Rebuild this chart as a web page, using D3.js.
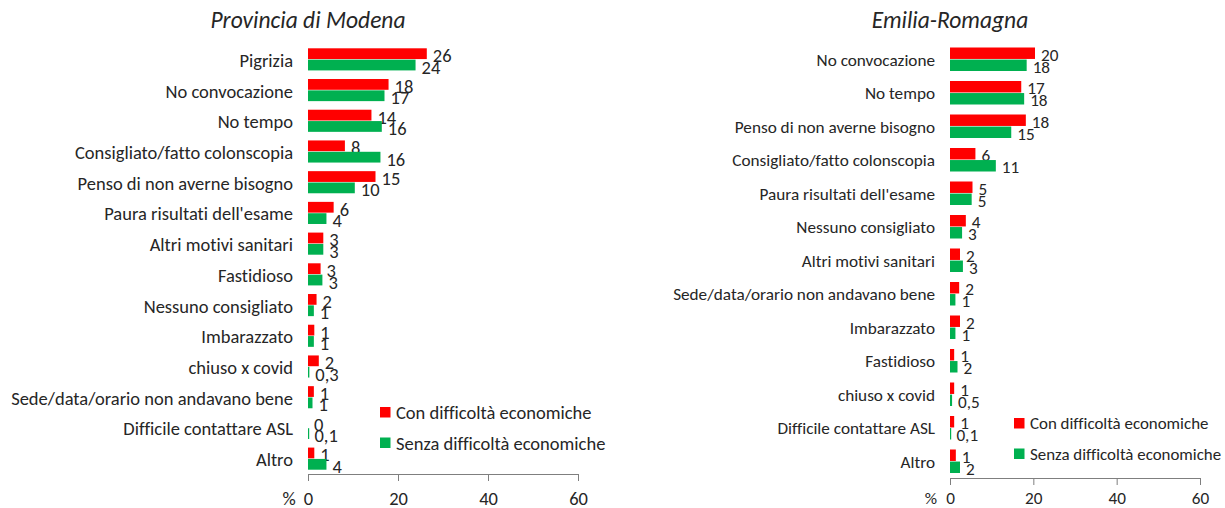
<!DOCTYPE html>
<meta charset="utf-8">
<style type="text/css">
body { margin: 0; background: #fff; }
svg text { font-family: Carlito, Calibri, Lato, sans-serif; fill: #262626; font-variant-ligatures: none; }
.title { font-style: italic; font-size: 23.5px; text-anchor: middle; }
.axis path, .axis line { stroke: #7f7f7f; }
</style>
<body></body>
<script src="https://cdn.jsdelivr.net/npm/d3@7"></script>
<script>

// data
var modenaCats = ["Pigrizia", "No convocazione", "No tempo", "Consigliato/fatto colonscopia",
  "Penso di non averne bisogno", "Paura risultati dell'esame", "Altri motivi sanitari", "Fastidioso",
  "Nessuno consigliato", "Imbarazzato", "chiuso x covid", "Sede/data/orario non andavano bene",
  "Difficile contattare ASL", "Altro"];
var modenaCon   = [26.4, 17.9, 14.1, 8.2, 15.0, 5.7, 3.4, 2.8, 1.9, 1.4, 2.4, 1.3, 0, 1.4];
var modenaSenza = [23.9, 17.0, 16.4, 16.1, 10.4, 4.1, 3.4, 3.2, 1.3, 1.3, 0.3, 1.0, 0.1, 4.1];

var erCats = ["No convocazione", "No tempo", "Penso di non averne bisogno", "Consigliato/fatto colonscopia",
  "Paura risultati dell'esame", "Nessuno consigliato", "Altri motivi sanitari",
  "Sede/data/orario non andavano bene", "Imbarazzato", "Fastidioso", "chiuso x covid",
  "Difficile contattare ASL", "Altro"];
var erCon   = [20.4, 17.1, 18.2, 6.1, 5.4, 3.8, 2.4, 2.2, 2.4, 1.0, 1.0, 1.0, 1.4];
var erSenza = [18.4, 17.8, 14.7, 11.0, 5.2, 2.9, 3.1, 1.3, 1.3, 1.8, 0.5, 0.1, 2.4];

var series = ["Con difficoltà economiche", "Senza difficoltà economiche"];
var colors = ["#FF0000", "#00B050"];
var xTicks = [0, 20, 40, 60];

var svg = d3.select("body").append("svg")
    .attr("width", 1225)
    .attr("height", 508);

// label format: 0,3 style for values under 1
function fmt(v) {
  if (v > 0 && v < 1) return "0," + Math.round(v * 10);
  return String(Math.round(v));
}

function drawPanel(p) {
  var g = svg.append("g");

  var x = d3.scaleLinear().domain([0, 60]).range([p.x0, p.x1]);
  var y = d3.scaleBand().domain(p.cats).range([p.yTop, p.yBottom]).padding(0);
  var ySub = d3.scaleBand().domain([0, 1])
      .range([p.subPad, y.bandwidth() - p.subPad]).paddingInner(0.05);

  // title
  g.append("text").attr("class", "title")
      .attr("x", p.x0).attr("y", 28)
      .text(p.title);

  // category labels
  g.selectAll(".cat").data(p.cats).enter().append("text")
      .attr("class", "cat")
      .attr("x", p.x0 - 15)
      .attr("y", function(d) { return y(d) + y.bandwidth() / 2 + 1; })
      .attr("dominant-baseline", "central")
      .attr("text-anchor", "end")
      .style("font-size", p.fs + "px")
      .text(function(d) { return d; });

  // bars + value labels for both series
  [p.con, p.senza].forEach(function(vals, s) {
    g.selectAll(".bar" + s).data(vals).enter().append("rect")
        .attr("x", x(0))
        .attr("y", function(d, i) { return y(p.cats[i]) + ySub(s); })
        .attr("width", function(d) { return Math.max(x(d) - x(0), d > 0 ? 1.2 : 0); })
        .attr("height", ySub.bandwidth())
        .attr("fill", colors[s]);

    g.selectAll(".val" + s).data(vals).enter().append("text")
        .attr("x", function(d) { return x(d) + 6; })
        .attr("y", function(d, i) { return y(p.cats[i]) + ySub(s) + ySub.bandwidth() / 2 + 2; })
        .attr("dominant-baseline", "central")
        .style("font-size", p.fs + "px")
        .text(fmt);
  });

  // x axis
  var axis = g.append("g").attr("class", "axis")
      .attr("transform", "translate(0," + p.yBottom + ")")
      .call(d3.axisBottom(x).tickValues(xTicks).tickSize(7).tickSizeOuter(0));
  axis.attr("font-family", null).attr("font-size", null);
  axis.selectAll("text")
      .attr("y", 498 - p.yBottom).attr("dy", null)
      .attr("dominant-baseline", "central")
      .style("font-size", p.fs + "px")
      .attr("fill", "#262626");

  g.append("text")
      .attr("x", p.x0 - 19).attr("y", 498)
      .attr("text-anchor", "middle")
      .attr("dominant-baseline", "central")
      .style("font-size", p.fs + "px")
      .text("%");

  // legend
  series.forEach(function(name, s) {
    g.append("rect")
        .attr("x", p.legX).attr("y", p.legY + s * 30.5)
        .attr("width", 10.5).attr("height", 10.5)
        .attr("fill", colors[s]);
    g.append("text")
        .attr("x", p.legX + 16).attr("y", p.legY + s * 30.5 + 5.5)
        .attr("dominant-baseline", "central")
        .style("font-size", p.legFs + "px")
        .text(name);
  });
}

drawPanel({ title: "Provincia di Modena", cats: modenaCats, con: modenaCon, senza: modenaSenza,
  x0: 308, x1: 578, yTop: 44, yBottom: 474, subPad: 4.3, fs: 18.5, legFs: 18.5, legX: 380, legY: 407 });

drawPanel({ title: "Emilia-Romagna", cats: erCats, con: erCon, senza: erSenza,
  x0: 950, x1: 1200, yTop: 42.5, yBottom: 478, subPad: 5, fs: 17.2, legFs: 16.9, legX: 1014, legY: 418 });

</script>
